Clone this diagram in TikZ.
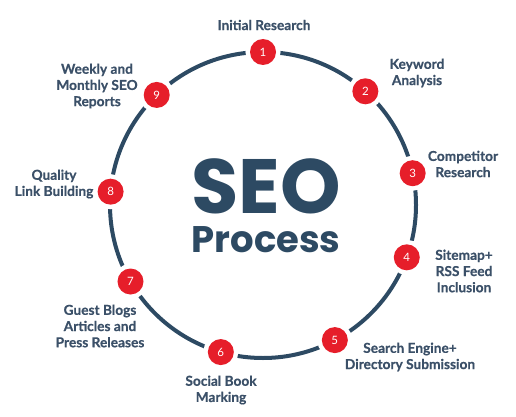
\documentclass[tikz,border=0pt]{standalone}
\usepackage{fontspec}
\setmainfont{Lato}[BoldFont={Lato Bold}]
\newfontfamily\labelfont{Lato Bold}[FakeBold=0.5]
\newfontfamily\titlefont{Poppins}[BoldFont={Poppins Bold}]
\definecolor{seonavy}{HTML}{2D4A63}
\definecolor{seored}{HTML}{E61E2A}
\definecolor{seotext}{HTML}{3B5068}

\begin{document}
\begin{tikzpicture}[x=1pt,y=1pt,
	badge/.style={circle,fill=seored,minimum size=26pt,inner sep=0pt,
		text=white,font=\fontsize{11.5}{11.5}\selectfont,
		preaction={draw=white,line width=9pt}},
	steptext/.style={align=center,text=seotext,
		font=\labelfont\fontsize{13.7}{16.2}\selectfont}]
	\useasboundingbox (0,0) rectangle (516,416);
	%Big circle
	\coordinate (c) at (263,211);
	\draw [seonavy,line width=4pt] (c) circle [radius=153];
	%Title in the middle
	\node [inner sep=0pt,text=seonavy,font=\titlefont\bfseries\fontsize{77}{77}\selectfont] (seo) at (266,230) {SEO};
	\node [inner sep=0pt,text=seonavy,font=\titlefont\bfseries\fontsize{37}{37}\selectfont] (process) at (266,176) {Process};

	%Steps on the circle
	\path (c) ++(90:153) node [badge] (s1) {1};
	\path (c) ++(48:153) node [badge] (s2) {2};
	\path (c) ++(12:153) node [badge] (s3) {3};
	\path (c) ++(-20:153) node [badge] (s4) {4};
	\path (c) ++(-62:153) node [badge] (s5) {5};
	\path (c) ++(-106:153) node [badge] (s6) {6};
	\path (c) ++(210:153) node [badge] (s7) {7};
	\path (c) ++(175:153) node [badge] (s8) {8};
	\path (c) ++(134:153) node [badge] (s9) {9};

	%Labels of the steps
	\node [steptext] (t1) at (264,391) {Initial Research};
	\node [steptext] (t2) at (417,343) {Keyword\\Analysis};
	\node [steptext] (t3) at (463,252) {Competitor\\Research};
	\node [steptext] (t4) at (464,145) {Sitemap+\\RSS Feed\\Inclusion};
	\node [steptext] (t5) at (410,59) {Search Engine+\\Directory Submission};
	\node [steptext] (t6) at (221,26) {Social Book\\Marking};
	\node [steptext] (t7) at (100,90) {Guest Blogs\\Articles and\\Press Releases};
	\node [steptext] (t8) at (54,232) {Quality\\Link Building};
	\node [steptext] (t9) at (97,330) {Weekly and\\Monthly SEO\\Reports};
\end{tikzpicture}
\end{document}
